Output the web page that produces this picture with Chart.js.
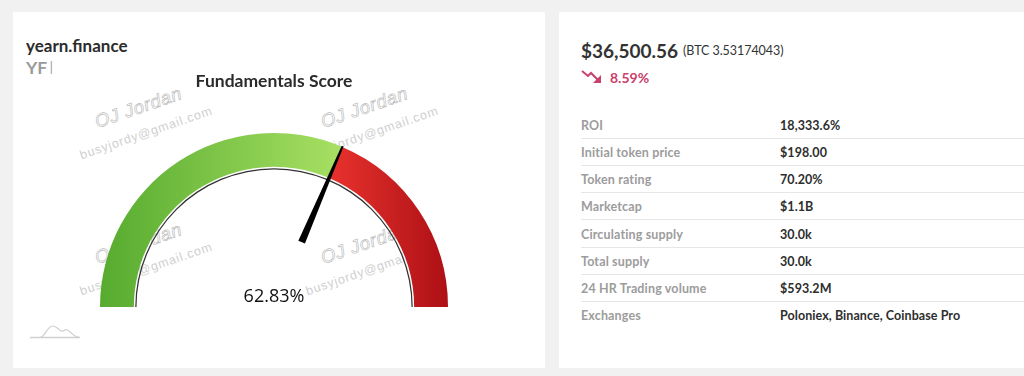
<!DOCTYPE html>
<html><head><meta charset="utf-8">
<script src="https://cdn.jsdelivr.net/npm/chart.js@4"></script>
<style>
html,body{margin:0;padding:0;width:1024px;height:376px;overflow:hidden;background:#f1f1f1;font-family:Lato,sans-serif}
.card{position:absolute;background:#fff}
#left{left:13px;top:12px;width:532px;height:356px}
#right{left:559px;top:12px;width:465px;height:356px}
.t{position:absolute;white-space:nowrap;line-height:1}
canvas{position:absolute;left:0;top:0}
.wm{position:absolute;transform-origin:0 0;transform:rotate(-19deg);white-space:nowrap;line-height:1}
.wm1{font:italic 400 18.5px "Liberation Sans",sans-serif;color:#fff;-webkit-text-stroke:.6px #b5b5b5;letter-spacing:.6px}
.wm2{font:400 12.5px "Liberation Sans",sans-serif;color:#d0d0d0;letter-spacing:.85px}
.row{position:absolute;left:22px;width:443px;height:27px;box-sizing:border-box;font-size:12.5px;font-weight:700}
.row .k{position:absolute;left:0;top:6px;color:#9c9c9c;letter-spacing:.15px}
.row .v{position:absolute;left:199px;top:6px;color:#2e2e2e;letter-spacing:.07px}
.row.sep{border-bottom:1px solid #e6e6e6}
</style></head><body>
<div class="card" id="left"></div>
<div class="card" id="right"></div>
<script>
const gaugeLabels = ["Score", "Remainder"];
const gaugeValues = [62.83, 37.17];
const gapValues = [100];
const ringValues = [100];
const scoreText = "62.83%";
const chartTitle = "Fundamentals Score";
const coinName = "yearn.finance";
const priceText = "$36,500.56";
const btcText = "(BTC 3.53174043)";
const changeText = "8.59%";
const rowLabels = ["ROI","Initial token price","Token rating","Marketcap","Circulating supply","Total supply","24 HR Trading volume","Exchanges"];
const rowValues = ["18,333.6%","$198.00","70.20%","$1.1B","30.0k","30.0k","$593.2M","Poloniex, Binance, Coinbase Pro"];

const leftCard = document.getElementById('left'), rightCard = document.getElementById('right');
function addText(parent, txt, x, y, css){
  const d = document.createElement('div'); d.className='t'; d.textContent=txt;
  d.style.cssText += `left:${x}px;top:${y}px;${css}`; parent.appendChild(d); return d;
}
[[0,0],[226,0],[0,136],[226,136]].forEach(([dx,dy])=>{
  const a=document.createElement('div'); a.className='wm wm1'; a.textContent='OJ Jordan';
  a.style.left=(79+dx)+'px'; a.style.top=(100+dy)+'px'; leftCard.appendChild(a);
  const b=document.createElement('div'); b.className='wm wm2'; b.textContent='busyjordy@gmail.com';
  b.style.left=(65+dx)+'px'; b.style.top=(137+dy)+'px'; leftCard.appendChild(b);
});
addText(leftCard, coinName, 13, 25, 'font-size:17px;font-weight:700;color:#2b2b2b');
addText(leftCard, "YF", 13, 47, 'font-size:17.5px;font-weight:700;color:#9a9a9a');
addText(leftCard, "I", 36, 47, 'font-size:17.5px;font-weight:300;color:#9a9a9a');

addText(rightCard, priceText, 22, 29, 'font-size:19px;font-weight:700;color:#333');
addText(rightCard, btcText, 124, 33, 'font-size:12.5px;font-weight:400;color:#333;letter-spacing:-.05px');
addText(rightCard, changeText, 51, 59, 'font-size:14px;font-weight:700;color:#c9416a');
rightCard.insertAdjacentHTML('beforeend','<svg style="position:absolute;left:22px;top:57px" width="22" height="18" viewBox="0 0 22 18"><path d="M1 2 L7 7 L10 4 L17 11" fill="none" stroke="#c9416a" stroke-width="2"/><path d="M20 6 L20 14 L12 14 Z" fill="#c9416a"/></svg>');
rowLabels.forEach((k,i)=>{
  const r=document.createElement('div'); r.className='row'+(i<rowLabels.length-1?' sep':'');
  r.style.top=Math.round(100+i*27.14)+'px';
  const a=document.createElement('div');a.className='k';a.textContent=k;
  const b=document.createElement('div');b.className='v';b.textContent=rowValues[i];
  r.append(a,b); rightCard.appendChild(r);
});
leftCard.insertAdjacentHTML('beforeend','<svg style="position:absolute;left:17px;top:312px" width="52" height="16" viewBox="0 0 52 16"><path d="M0 13.5 H10 C15 13 17 2 23 2 C28 2 30 10 35 6 C39 3 41 13 50 13.5" fill="none" stroke="#cfcfcf" stroke-width="1.2"/><path d="M0 13.5 H50" stroke="#d0d0d0" stroke-width="1.4"/></svg>');

const cv=document.createElement('canvas'); cv.width=532; cv.height=356; leftCard.appendChild(cv);

function hGrad(ctx, x0, x1, c0, c1){
  const g=ctx.createLinearGradient(x0,0,x1,0); g.addColorStop(0,c0); g.addColorStop(1,c1); return g;
}
const needlePlugin={
  id:'needle',
  afterDatasetsDraw(chart){
    const arc=chart.getDatasetMeta(0).data[0];
    const {x,y,outerRadius}=arc;
    const total=gaugeValues.reduce((a,b)=>a+b,0);
    const ang=Math.PI+Math.PI*gaugeValues[0]/total;
    const c=chart.ctx; c.save(); c.translate(x,y); c.rotate(ang);
    c.fillStyle='#000'; c.beginPath();
    const r0=outerRadius*0.405;
    c.moveTo(r0,-3.6); c.lineTo(outerRadius+1,-1); c.lineTo(outerRadius+1,1); c.lineTo(r0,3.6); c.closePath(); c.fill();
    c.restore();
    c.save(); c.fillStyle='#111'; c.font='400 18px "Open Sans",sans-serif';
    c.textAlign='center'; c.textBaseline='alphabetic';
    c.fillText(scoreText,x,y-5); c.restore();
  }
};
new Chart(cv,{
  type:'doughnut',
  data:{labels:gaugeLabels,datasets:[
    {data:gaugeValues,weight:32,borderWidth:0,backgroundColor(ctx){
      const ch=ctx.chart; if(!ch.chartArea) return '#888';
      const L=ch.chartArea.left,W=ch.chartArea.width;
      return ctx.dataIndex===0? hGrad(ch.ctx,L,L+W*0.695,'#56ab2f','#a8e063'):hGrad(ch.ctx,L+W*0.66,L+W,'#e8322e','#ad1015');
    }},
    {data:gapValues,weight:1.3,borderWidth:0,backgroundColor:'rgba(0,0,0,0)'},
    {data:ringValues,weight:1.2,borderWidth:0,backgroundColor:'#333'}
  ]},
  options:{
    responsive:false,animation:false,rotation:-90,circumference:180,cutout:'79.02%',
    layout:{padding:{left:87,right:97,top:0,bottom:61}},
    plugins:{legend:{display:false},tooltip:{enabled:false},
      title:{display:true,text:chartTitle,color:'#2b2b2b',font:{family:'Lato',size:17.5,weight:'bold'},padding:{top:59,bottom:41}}}
  },
  plugins:[needlePlugin]
});
</script>
</body></html>
